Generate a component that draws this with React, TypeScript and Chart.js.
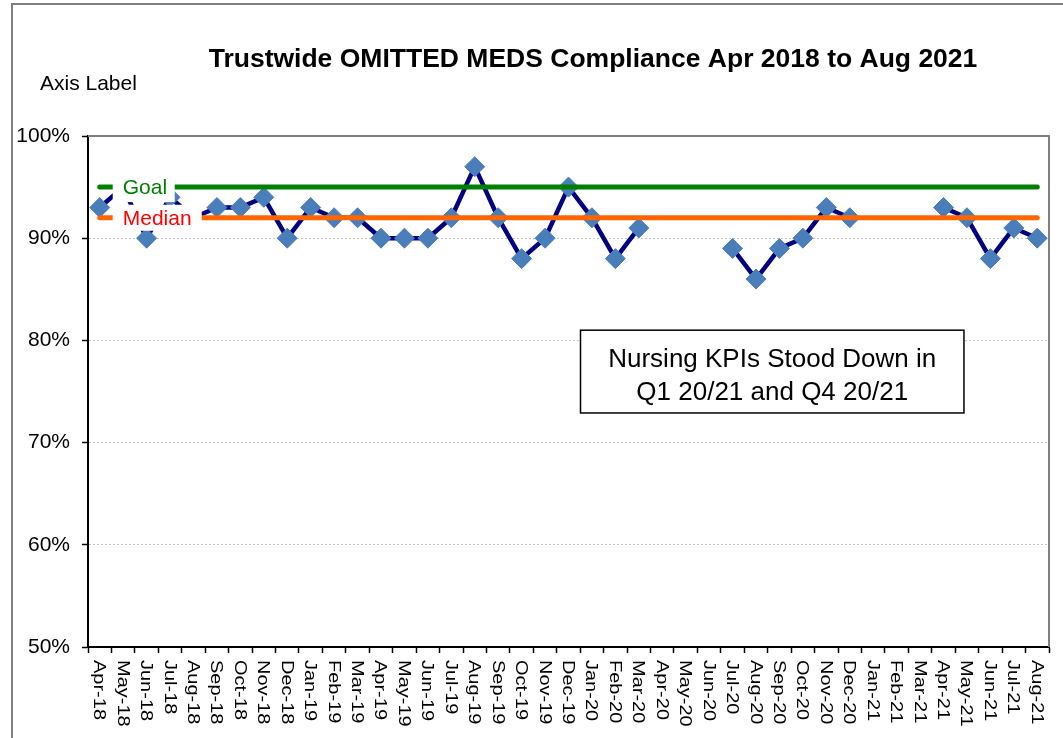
import React, { useEffect, useRef } from "react";
import { Chart, registerables } from "chart.js";

Chart.register(...registerables);

const MONTHS: string[] = [
  "Apr-18", "May-18", "Jun-18", "Jul-18", "Aug-18", "Sep-18", "Oct-18", "Nov-18", "Dec-18",
  "Jan-19", "Feb-19", "Mar-19", "Apr-19", "May-19", "Jun-19", "Jul-19", "Aug-19", "Sep-19", "Oct-19", "Nov-19", "Dec-19",
  "Jan-20", "Feb-20", "Mar-20", "Apr-20", "May-20", "Jun-20", "Jul-20", "Aug-20", "Sep-20", "Oct-20", "Nov-20", "Dec-20",
  "Jan-21", "Feb-21", "Mar-21", "Apr-21", "May-21", "Jun-21", "Jul-21", "Aug-21",
];

const COMPLIANCE: (number | null)[] = [
  93, 95, 90, 94, 92, 93, 93, 94, 90,
  93, 92, 92, 90, 90, 90, 92, 97, 92, 88, 90, 95,
  92, 88, 91, null, null, null, 89, 86, 89, 90, 93, 92,
  null, null, null, 93, 92, 88, 91, 90,
];

const GOAL = 95;
const MEDIAN = 92;

const Y_MIN = 50;
const Y_MAX = 100;
const Y_STEP = 10;

const TITLE = "Trustwide OMITTED MEDS Compliance Apr 2018 to Aug 2021";
const AXIS_LABEL = "Axis Label";
const NOTE_LINES = ["Nursing KPIs Stood Down in", "Q1 20/21 and Q4 20/21"];

const FONT = "'Liberation Sans', Arial, sans-serif";

const decorPlugin = {
  id: "decor",
  beforeDraw(chart: any) {
    const ctx = chart.ctx;
    ctx.save();
    ctx.strokeStyle = "#808080";
    ctx.lineWidth = 2;
    ctx.strokeRect(12, 4, 1200, 900);
    ctx.restore();
  },
  beforeDatasetsDraw(chart: any) {
    const { ctx, chartArea } = chart;
    ctx.save();
    ctx.strokeStyle = "#808080";
    ctx.lineWidth = 2;
    ctx.beginPath();
    ctx.moveTo(chartArea.left, chartArea.top);
    ctx.lineTo(chartArea.right, chartArea.top);
    ctx.lineTo(chartArea.right, chartArea.bottom);
    ctx.stroke();
    ctx.restore();
  },
  afterDatasetsDraw(chart: any) {
    const { ctx, scales } = chart;
    const x0 = scales.x.getPixelForValue(0);
    const yG = scales.y.getPixelForValue(GOAL);
    const yM = scales.y.getPixelForValue(MEDIAN);
    ctx.save();
    ctx.fillStyle = "#ffffff";
    ctx.fillRect(x0 + 13, yG - 14, 62, 29);
    ctx.fillRect(x0 + 13, yM - 13, 89, 26);
    ctx.font = `21px ${FONT}`;
    ctx.textAlign = "left";
    ctx.textBaseline = "middle";
    ctx.fillStyle = "#008000";
    ctx.fillText("Goal", x0 + 23, yG + 1);
    ctx.fillStyle = "#ff0000";
    ctx.fillText("Median", x0 + 23, yM + 1);

    // note box
    const bx1 = scales.x.getPixelForValue(20) + 12;
    const bx2 = scales.x.getPixelForValue(37) - 3;
    const by1 = scales.y.getPixelForValue(81);
    const by2 = scales.y.getPixelForValue(72.9);
    ctx.fillStyle = "#ffffff";
    ctx.fillRect(bx1, by1, bx2 - bx1, by2 - by1);
    ctx.strokeStyle = "#000000";
    ctx.lineWidth = 1.5;
    ctx.strokeRect(bx1, by1, bx2 - bx1, by2 - by1);
    ctx.fillStyle = "#000000";
    ctx.font = `26px ${FONT}`;
    ctx.textAlign = "center";
    ctx.textBaseline = "alphabetic";
    const cx = (bx1 + bx2) / 2;
    ctx.fillText(NOTE_LINES[0], cx, by1 + 37);
    ctx.fillText(NOTE_LINES[1], cx, by1 + 70);
    ctx.restore();
  },
  afterDraw(chart: any) {
    const { ctx, scales } = chart;
    ctx.save();
    ctx.fillStyle = "#000000";
    ctx.font = `bold 26.5px ${FONT}`;
    ctx.textAlign = "center";
    ctx.textBaseline = "alphabetic";
    ctx.fillText(TITLE, 593, 67);
    ctx.font = `21px ${FONT}`;
    ctx.textAlign = "left";
    ctx.fillText(AXIS_LABEL, 40, 90);

    const xs = scales.x;
    ctx.font = `20px ${FONT}`;
    MONTHS.forEach((m, i) => {
      const x = xs.getPixelForValue(i);
      ctx.save();
      ctx.translate(x - 5.5, xs.top + 13);
      ctx.rotate(Math.PI / 2);
      ctx.scale(1, 0.8);
      ctx.textAlign = "left";
      ctx.textBaseline = "alphabetic";
      ctx.fillText(m, 0, 0);
      ctx.restore();
    });
    ctx.restore();
  },
};

export default function App() {
  const ref = useRef<HTMLCanvasElement | null>(null);
  useEffect(() => {
    if (!ref.current) return;
    const chart = new Chart(ref.current, {
      type: "line",
      data: {
        labels: MONTHS,
        datasets: [
          {
            label: "Compliance",
            data: COMPLIANCE,
            order: 3,
            borderColor: "#000080",
            borderWidth: 4.5,
            borderJoinStyle: "round",
            pointStyle: "rectRot",
            pointRadius: 10,
            pointBackgroundColor: "#4a7ebb",
            pointBorderColor: "#4a7ebb",
            pointBorderWidth: 1,
            spanGaps: false,
            tension: 0,
          },
          {
            label: "Goal",
            data: MONTHS.map(() => GOAL),
            order: 1,
            borderColor: "#008000",
            borderWidth: 5,
            borderCapStyle: "round",
            pointRadius: 0,
          },
          {
            label: "Median",
            data: MONTHS.map(() => MEDIAN),
            order: 2,
            borderColor: "#ff6600",
            borderWidth: 5,
            borderCapStyle: "round",
            pointRadius: 0,
          },
        ],
      },
      options: {
        responsive: false,
        animation: false,
        layout: { padding: { top: 136, right: 14, bottom: 0, left: 0 } },
        plugins: {
          legend: { display: false },
          tooltip: { enabled: false },
          title: { display: false },
        },
        scales: {
          x: {
            type: "category",
            offset: true,
            grid: {
              display: true,
              offset: true,
              drawOnChartArea: false,
              drawTicks: true,
              tickLength: 6,
              tickColor: "#000000",
              tickWidth: 1.5,
            },
            border: { display: true, color: "#000000", width: 2 },
            ticks: { display: false },
            afterFit: (s: any) => {
              s.height = 91;
            },
          },
          y: {
            min: Y_MIN,
            max: Y_MAX,
            ticks: {
              stepSize: Y_STEP,
              callback: (v: any) => `${v}%`,
              font: { family: FONT, size: 21 },
              color: "#000000",
              padding: 12,
            },
            grid: {
              color: "#c4c4c4",
              lineWidth: 1,
              tickColor: "#000000",
              tickLength: 6,
              tickWidth: 1.5,
              tickBorderDash: [],
            },
            border: { display: true, color: "#000000", width: 2, dash: [2, 2] },
            afterFit: (s: any) => {
              s.width = 88;
            },
          },
        },
      },
      plugins: [decorPlugin],
    });
    return () => chart.destroy();
  }, []);
  return (
    <div style={{ position: "absolute", left: 0, top: 0, width: 1063, height: 738, background: "#fff" }}>
      <canvas ref={ref} width={1063} height={738} style={{ display: "block" }} />
    </div>
  );
}
